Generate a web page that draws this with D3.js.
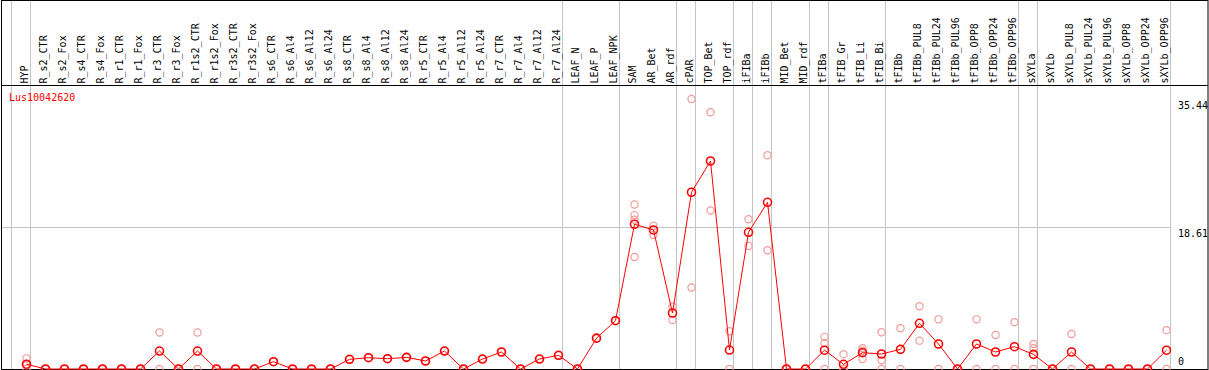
<!DOCTYPE html>
<html>
<head>
<meta charset="utf-8">
<script src="https://cdn.jsdelivr.net/npm/d3@7"></script>
<style>
  body { margin: 0; background: #fff; }
  svg { display: block; }
  text { font-family: "DejaVu Sans Mono", monospace; font-size: 10px; }
</style>
</head>
<body>
<svg width="1209" height="370"></svg>
<script>
const geneName = "Lus10042620";

const labels = [
  "HYP", "R_s2_CTR", "R_s2_Fox", "R_s4_CTR", "R_s4_Fox", "R_r1_CTR", "R_r1_Fox",
  "R_r3_CTR", "R_r3_Fox", "R_r1s2_CTR", "R_r1s2_Fox", "R_r3s2_CTR", "R_r3s2_Fox",
  "R_s6_CTR", "R_s6_Al4", "R_s6_Al12", "R_s6_Al24", "R_s8_CTR", "R_s8_Al4", "R_s8_Al12",
  "R_s8_Al24", "R_r5_CTR", "R_r5_Al4", "R_r5_Al12", "R_r5_Al24", "R_r7_CTR", "R_r7_Al4",
  "R_r7_Al12", "R_r7_Al24", "LEAF_N", "LEAF_P", "LEAF_NPK", "SAM", "AR_Bet", "AR_rdf",
  "cPAR", "TOP_Bet", "TOP_rdf", "iFIBa", "iFIBb", "MID_Bet", "MID_rdf", "tFIBa",
  "tFIB_Gr", "tFIB_Li", "tFIB_Bi", "tFIBb", "tFIBb_PUL8", "tFIBb_PUL24", "tFIBb_PUL96",
  "tFIBb_OPP8", "tFIBb_OPP24", "tFIBb_OPP96", "sXYLa", "sXYLb", "sXYLb_PUL8",
  "sXYLb_PUL24", "sXYLb_PUL96", "sXYLb_OPP8", "sXYLb_OPP24", "sXYLb_OPP96"
];

const means = [
  0.63, 0, 0, 0, 0, 0, 0,
  2.36, 0, 2.36, 0, 0, 0,
  0.96, 0, 0, 0, 1.27, 1.48, 1.35,
  1.53, 1.05, 2.36, 0, 1.31, 2.23, 0,
  1.31, 1.8, 0, 4.05, 6.34, 19.0, 18.25, 7.35,
  23.2, 27.3, 2.49, 17.94, 21.88, 0, 0, 2.47,
  0.62, 2.14, 1.97, 2.58, 6.0, 3.28, 0,
  3.28, 2.23, 2.93, 1.92, 0, 2.23,
  0, 0, 0, 0, 2.47
];

const replicates = [
  [1.4, 0.5, 0], [0, 0], [0, 0], [0, 0], [0, 0], [0, 0], [0, 0],
  [4.8, 0], [0, 0], [4.8, 0], [0, 0], [0, 0], [0, 0],
  [0.96], [0, 0], [0, 0], [0, 0], [1.27], [1.48], [1.35],
  [1.53], [1.05], [2.36], [0, 0], [1.31], [2.23], [0, 0],
  [1.31], [1.8], [0, 0], [4.05], [6.34], [21.6, 20.2, 19.6, 14.7], [18.8, 17.6], [8.2, 6.43],
  [35.44, 10.7], [33.7, 20.8], [4.95, 0], [19.65, 16.15], [28.05, 15.58], [0, 0], [0, 0], [4.22, 3.4, 0],
  [1.95, 0, 0], [2.72, 2.4, 1.31], [4.82, 1.14, 0], [5.34, 0], [8.23, 3.72], [6.52, 0], [0, 0],
  [6.52, 0], [4.46, 0], [6.13, 0], [3.28, 2.72, 0], [0, 0], [4.6, 0],
  [0, 0], [0, 0], [0, 0], [0, 0], [5.1, 0]
];

// column indices where a grey separator sits
const groupBreaks = [0, 1, 29, 32, 35, 36, 38, 39, 40, 42, 43, 46, 53, 54, 61];

const yTicks = [0, 18.61, 35.44];
const gridTicks = [18.61];

const svg = d3.select("svg");
const W = 1209, H = 370;
const headerY = 85.5;

const x = d3.scaleBand().domain(labels).range([11, 1170]).paddingInner(0).paddingOuter(0);
const colW = x.bandwidth();
const pointX = d => x(d) + 15.5;
const y = d3.scaleLinear().domain([0, 35.44]).range([369, 99]);

// group separators
svg.append("g").selectAll("line")
  .data(groupBreaks)
  .enter().append("line")
  .attr("x1", i => Math.round(11 + i * colW) + 0.5)
  .attr("x2", i => Math.round(11 + i * colW) + 0.5)
  .attr("y1", 0).attr("y2", H)
  .attr("stroke", "#c4c4c4").attr("stroke-width", 1);

// horizontal grid
svg.append("g").selectAll("line")
  .data(gridTicks)
  .enter().append("line")
  .attr("x1", 1).attr("x2", 1170)
  .attr("y1", d => Math.round(y(d)) + 0.5)
  .attr("y2", d => Math.round(y(d)) + 0.5)
  .attr("stroke", "#c4c4c4");

// frame + header rule
svg.append("rect")
  .attr("x", 1.5).attr("y", 0.5)
  .attr("width", 1206.5).attr("height", 369)
  .attr("fill", "none").attr("stroke", "#000");
svg.append("line")
  .attr("x1", 1).attr("x2", 1208)
  .attr("y1", headerY).attr("y2", headerY)
  .attr("stroke", "#000");

// column labels
svg.append("g").selectAll("text")
  .data(labels)
  .enter().append("text")
  .attr("transform", d => `translate(${x(d) + 17},83.5) rotate(-90)`)
  .attr("fill", "#000")
  .text(d => d);

// gene name
svg.append("text")
  .attr("x", 9).attr("y", 101)
  .attr("fill", "#ff0000")
  .text(geneName);

// right value labels
svg.append("g").selectAll("text")
  .data(yTicks)
  .enter().append("text")
  .attr("x", 1178)
  .attr("y", d => d === 0 ? y(d) - 4 : y(d) + 9.5)
  .attr("fill", "#000")
  .text(d => d);

// replicate points
const repData = [];
labels.forEach((lab, i) => replicates[i].forEach(v => repData.push({ lab, v })));
svg.append("g").selectAll("circle")
  .data(repData)
  .enter().append("circle")
  .attr("cx", d => pointX(d.lab))
  .attr("cy", d => y(d.v))
  .attr("r", 3.6)
  .attr("fill", "none")
  .attr("stroke", "#f29a9a")
  .attr("stroke-width", 1.2);

// mean line
const line = d3.line()
  .x((d, i) => pointX(labels[i]))
  .y(d => y(d));
svg.append("path")
  .datum(means)
  .attr("d", line)
  .attr("fill", "none")
  .attr("stroke", "#ff0000")
  .attr("stroke-width", 1);

// mean points
svg.append("g").selectAll("circle")
  .data(means)
  .enter().append("circle")
  .attr("cx", (d, i) => pointX(labels[i]))
  .attr("cy", d => y(d))
  .attr("r", 4)
  .attr("fill", "none")
  .attr("stroke", "#ff0000")
  .attr("stroke-width", 1.6);
</script>
</body>
</html>
